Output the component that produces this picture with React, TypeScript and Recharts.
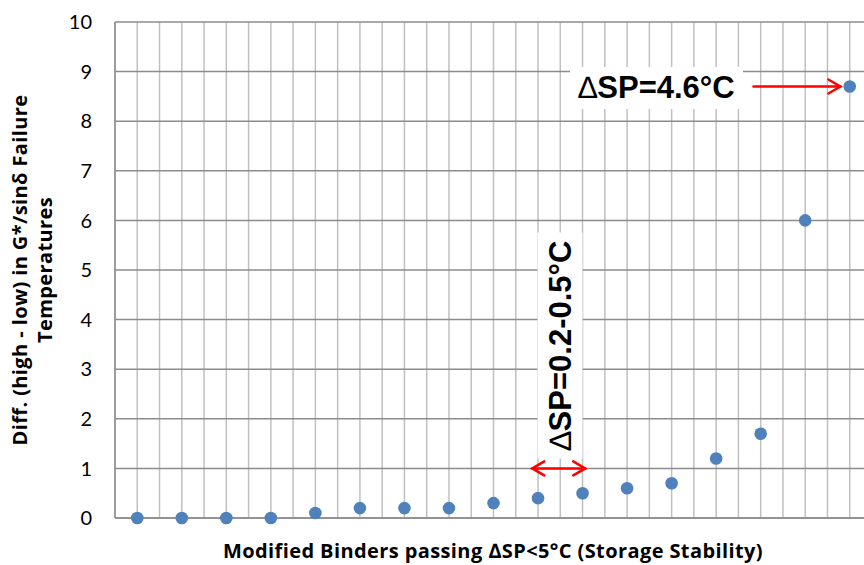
import { ScatterChart, Scatter, XAxis, YAxis, ReferenceLine, Label } from 'recharts';

// binder number along x, difference in failure temperature (°C) on y
const binders = [1, 2, 3, 4, 5, 6, 7, 8, 9, 10, 11, 12, 13, 14, 15, 16, 17];
const tempDiff = [0, 0, 0, 0, 0.1, 0.2, 0.2, 0.2, 0.3, 0.4, 0.5, 0.6, 0.7, 1.2, 1.7, 6.0, 8.7];
const yTicks = [0, 1, 2, 3, 4, 5, 6, 7, 8, 9, 10];
const xGridTicks = [
  0.5, 1, 1.5, 2, 2.5, 3, 3.5, 4, 4.5, 5, 5.5, 6, 6.5, 7, 7.5, 8, 8.5, 9,
  9.5, 10, 10.5, 11, 11.5, 12, 12.5, 13, 13.5, 14, 14.5, 15, 15.5, 16, 16.5, 17, 17.5,
];

// arrows: [x1, x2, y]
const highArrow = [14.84, 16.79, 8.7];
const lowArrow = [9.87, 11.06, 1.0];

const data = binders.map((b, i) => ({ binder: b, diff: tempDiff[i] }));

const RED = '#FF0000';

function Arrow(props: any) {
  const { x1, y1, x2, y2, both } = props;
  const h = 12;
  const w = 7;
  return (
    <g stroke={RED} strokeWidth={2.5} fill="none" strokeLinecap="round">
      <line x1={x1} y1={y1} x2={x2} y2={y2} />
      <polyline points={`${x2 - h},${y2 - w} ${x2},${y2} ${x2 - h},${y2 + w}`} />
      {both && <polyline points={`${x1 + h},${y1 - w} ${x1},${y1} ${x1 + h},${y1 + w}`} />}
    </g>
  );
}

const titleFont = { fontFamily: '"Open Sans"', fontWeight: 700, fontSize: 20, letterSpacing: 0.4 } as const;

const YTitle = (props: any) => {
  const cy = props.viewBox.y + props.viewBox.height / 2;
  return (
    <g>
      <text x={27} y={cy} transform={`rotate(-90 27 ${cy})`} textAnchor="middle" style={titleFont}>
        Diff. (high - low) in G*/sinδ Failure
      </text>
      <text x={52} y={cy} transform={`rotate(-90 52 ${cy})`} textAnchor="middle" style={titleFont}>
        Temperatures
      </text>
    </g>
  );
};

const XTitle = () => (
  <text x={493} y={558} textAnchor="middle" style={titleFont}>
    Modified Binders passing ∆SP&lt;5°C (Storage Stability)
  </text>
);

const annoFont = { fontFamily: '"Liberation Sans", Arial', fontWeight: 700, fontSize: 31, color: '#000' } as const;

export default function App() {
  return (
    <div style={{ position: 'absolute', left: 0, top: 0, width: 864, height: 565, overflow: 'hidden', background: '#fff' }}>
      <ScatterChart width={880} height={565} margin={{ top: 22, right: 8, bottom: 0, left: 0 }}>
        <XAxis
          type="number"
          dataKey="binder"
          domain={[0.5, 17.5]}
          ticks={xGridTicks}
          interval={0}
          tick={false}
          tickLine={false}
          axisLine={{ stroke: '#8C8C8C', strokeWidth: 1.5 }}
          height={47}
        >
          <Label content={<XTitle />} />
        </XAxis>
        <YAxis
          type="number"
          dataKey="diff"
          domain={[0, 10]}
          ticks={yTicks}
          interval={0}
          width={115}
          tickSize={0}
          tickMargin={23}
          axisLine={{ stroke: '#8C8C8C', strokeWidth: 1.5 }}
          tick={{ fontFamily: 'Lato', fontSize: 20, fill: '#000' }}
        >
          <Label content={<YTitle />} />
        </YAxis>
        {xGridTicks.map((t) => (
          <ReferenceLine key={`x${t}`} x={t} stroke="#C0C0C0" strokeWidth={1.5} />
        ))}
        {yTicks.map((t) => (
          <ReferenceLine key={`y${t}`} y={t} stroke="#8C8C8C" strokeWidth={1.5} />
        ))}
        <ReferenceLine
          segment={[{ x: highArrow[0], y: highArrow[2] }, { x: highArrow[1], y: highArrow[2] }]}
          shape={(p: any) => <Arrow {...p} />}
        />
        <ReferenceLine
          segment={[{ x: lowArrow[0], y: lowArrow[2] }, { x: lowArrow[1], y: lowArrow[2] }]}
          shape={(p: any) => <Arrow {...p} both />}
        />
        <Scatter
          data={data}
          isAnimationActive={false}
          shape={(p: any) => <circle cx={p.cx} cy={p.cy} r={6.3} fill="#4F81BD" />}
        />
      </ScatterChart>
      <div
        style={{
          position: 'absolute', left: 570, top: 67, width: 173, height: 42, background: '#fff',
          display: 'flex', alignItems: 'center', justifyContent: 'center', ...annoFont,
        }}
      >
        <span><span style={{ fontWeight: 400 }}>∆</span>SP=4.6°C</span>
      </div>
      <div
        style={{
          position: 'absolute', left: 559.5 - 113, top: 345 - 22.5, width: 226, height: 45, background: '#fff',
          display: 'flex', alignItems: 'center', justifyContent: 'center', transform: 'rotate(-90deg)', ...annoFont,
        }}
      >
        <span><span style={{ fontWeight: 400 }}>∆</span>SP=0.2-0.5°C</span>
      </div>
    </div>
  );
}
